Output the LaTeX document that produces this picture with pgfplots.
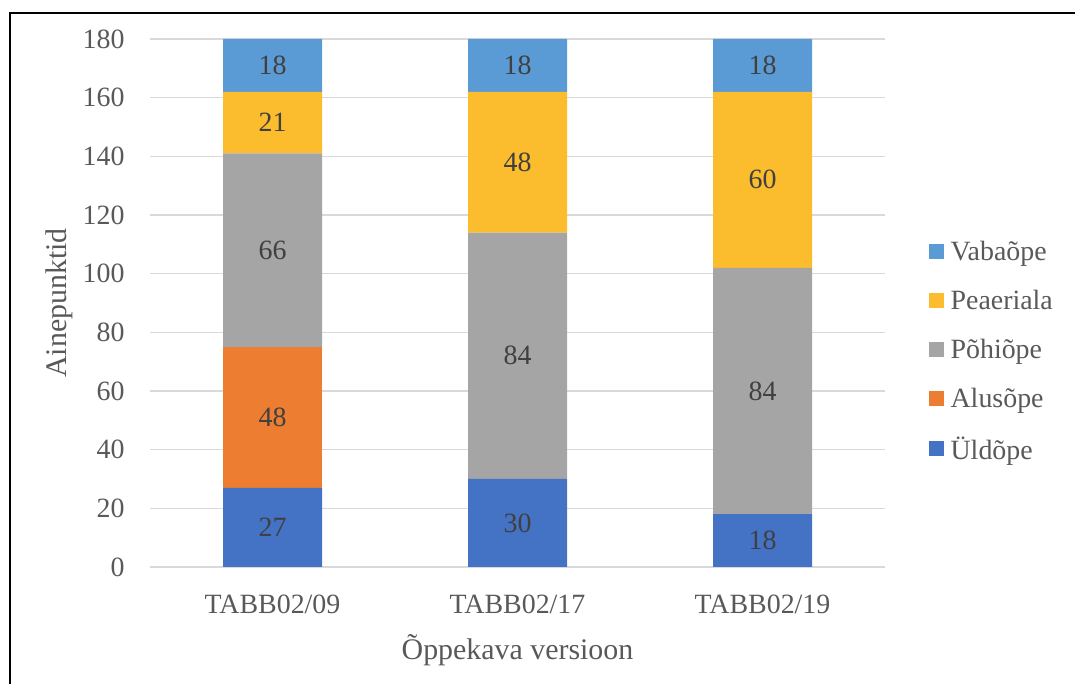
\documentclass[border=0pt]{standalone}
\usepackage{pgfplots}
\pgfplotsset{compat=1.18}
\usepackage{fontspec}
\setmainfont{Liberation Serif}

\definecolor{uld}{HTML}{4472C4}
\definecolor{alus}{HTML}{ED7D31}
\definecolor{pohi}{HTML}{A5A5A5}
\definecolor{peae}{HTML}{FBBC2E}
\definecolor{vaba}{HTML}{5B9BD5}
\definecolor{gridc}{HTML}{D9D9D9}
\definecolor{tickc}{HTML}{595959}
\definecolor{valc}{HTML}{404040}

\begin{document}
\begin{tikzpicture}
\path[use as bounding box] (0,0) rectangle (1075bp,684bp);
\draw[line width=2bp] (10bp,-5bp) -- (10bp,671bp) -- (1085bp,671bp);
\begin{axis}[
  at={(150bp,117bp)}, anchor=south west,
  scale only axis,
  width=735bp, height=528bp,
  ybar stacked,
  bar width=99bp,
  xmin=-0.5, xmax=2.5,
  ymin=0, ymax=180,
  xtick={0,1,2},
  xticklabels={TABB02/09,TABB02/17,TABB02/19},
  ytick={0,20,...,180},
  major tick length=0pt,
  axis x line*=bottom,
  axis y line*=left,
  x axis line style={draw=gridc, line width=1.5bp, -},
  y axis line style={draw=none},
  ymajorgrids=true,
  grid style={draw=gridc, line width=1.5bp},
  /pgf/number format/assume math mode=true,
  tick label style={font=\fontsize{28}{34}\selectfont, text=tickc},
  yticklabel style={xshift=-22bp},
  xticklabel style={yshift=-24bp},
  xlabel={Õppekava versioon},
  ylabel={Ainepunktid},
  label style={font=\fontsize{30}{36}\selectfont, text=tickc},
  xlabel style={yshift=-14bp},
  ylabel style={yshift=3bp},
  point meta=explicit symbolic,
  nodes near coords,
  every node near coord/.append style={font=\fontsize{28}{34}\selectfont, text=valc, anchor=center},
  legend image code/.code={\fill[#1] (0bp,-7.5bp) rectangle (15bp,7.5bp);},
  reverse legend,
  legend style={at={(1.055,0.409)}, anchor=west, draw=none, fill=none,
    font=\fontsize{28}{34}\selectfont, text=tickc, row sep=24bp,
    /tikz/every odd column/.append style={column sep=5bp}},
  legend cell align=left,
]
\addplot[fill=uld, draw=none] coordinates {(0,27)[27] (1,30)[30] (2,18)[18]};
\addlegendentry{Üldõpe}
\addplot[fill=alus, draw=none] coordinates {(0,48)[48] (1,0)[] (2,0)[]};
\addlegendentry{Alusõpe}
\addplot[fill=pohi, draw=none] coordinates {(0,66)[66] (1,84)[84] (2,84)[84]};
\addlegendentry{Põhiõpe}
\addplot[fill=peae, draw=none] coordinates {(0,21)[21] (1,48)[48] (2,60)[60]};
\addlegendentry{Peaeriala}
\addplot[fill=vaba, draw=none] coordinates {(0,18)[18] (1,18)[18] (2,18)[18]};
\addlegendentry{Vabaõpe}
\end{axis}
\end{tikzpicture}
\end{document}
